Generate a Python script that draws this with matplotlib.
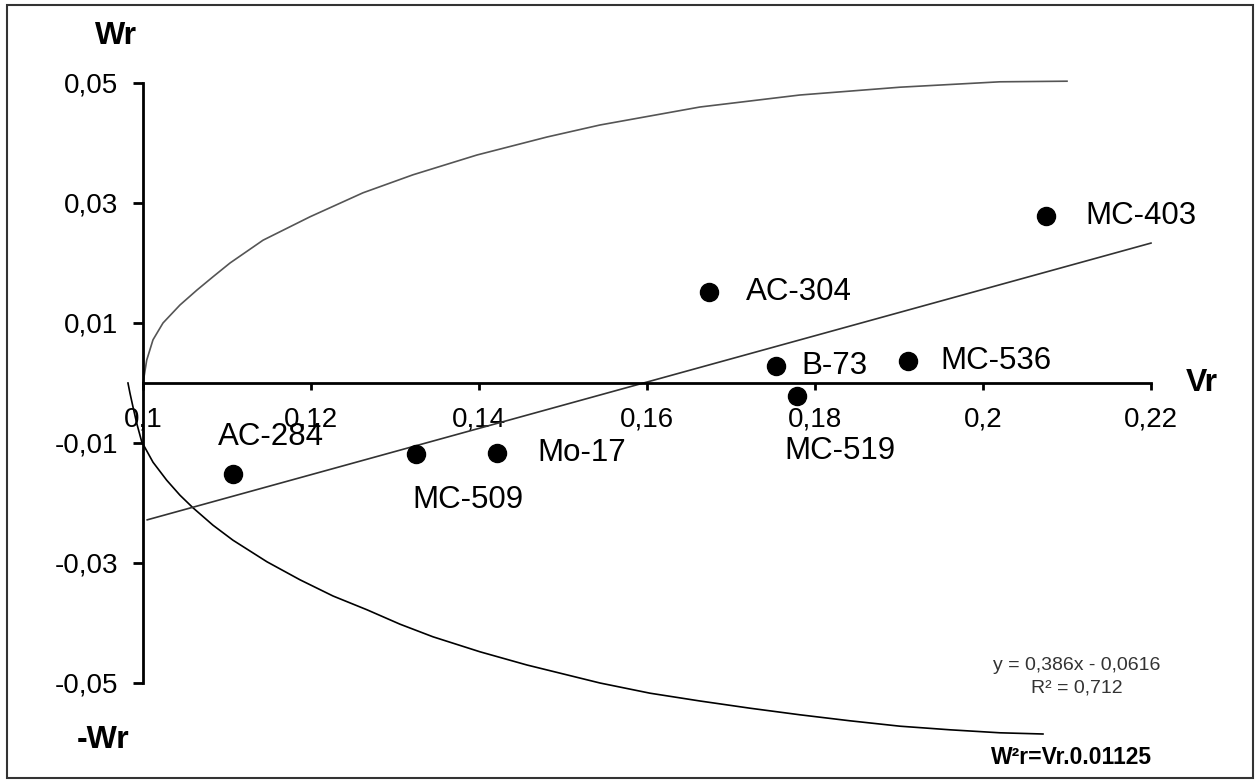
import numpy as np
import matplotlib
matplotlib.use('Agg')
import matplotlib.pyplot as plt
from matplotlib.patches import Rectangle

plt.rcParams['font.family'] = ['Liberation Sans', 'DejaVu Sans']

# sample points (Vr, Wr)
names = ['AC-284', 'MC-509', 'Mo-17', 'AC-304', 'B-73', 'MC-519', 'MC-536', 'MC-403']
vr = [0.1107, 0.1325, 0.1421, 0.1674, 0.1754, 0.1778, 0.1911, 0.2075]
wr = [-0.0152, -0.0119, -0.0116, 0.0152, 0.0028, -0.0021, 0.0037, 0.0279]

# linear trend shown in the chart
trend_slope = 0.386
trend_intercept = -0.0616
trend_r2 = 0.712
trend_range = [0.1005, 0.22]

# envelope curves
upper_vr = [0.1, 0.10012, 0.10044, 0.10119, 0.10238, 0.10440, 0.10643, 0.10833,
            0.11036, 0.11429, 0.11988, 0.12619, 0.13214, 0.13976, 0.14810,
            0.15440, 0.16631, 0.17821, 0.19012, 0.20202, 0.2100]
upper_wr = [0.0, 0.0010, 0.0038, 0.0072, 0.0100, 0.0130, 0.0155, 0.0177,
            0.0200, 0.0238, 0.0277, 0.0317, 0.0347, 0.0380, 0.0410,
            0.0430, 0.0460, 0.0480, 0.0493, 0.0502, 0.0503]
lower_vr = [0.09821, 0.09845, 0.09881, 0.09925, 0.09985, 0.10119, 0.10282, 0.10440,
            0.10595, 0.10833, 0.11071, 0.11476, 0.11869, 0.12262, 0.12667,
            0.13060, 0.13452, 0.14012, 0.14571, 0.15440, 0.16036, 0.16631,
            0.17226, 0.17821, 0.18417, 0.19012, 0.19607, 0.20202, 0.20714]
lower_wr = [0.0, -0.0017, -0.0040, -0.0067, -0.0098, -0.0132, -0.0162, -0.0187,
            -0.0208, -0.0237, -0.0262, -0.0298, -0.0328, -0.0355, -0.0378,
            -0.0402, -0.0423, -0.0448, -0.0470, -0.0500, -0.0517, -0.0530,
            -0.0542, -0.0553, -0.0563, -0.0572, -0.0578, -0.0583, -0.0585]

x_ticks = [0.10, 0.12, 0.14, 0.16, 0.18, 0.20, 0.22]
x_tick_labels = ['0,1', '0,12', '0,14', '0,16', '0,18', '0,2', '0,22']
y_ticks = [-0.05, -0.03, -0.01, 0.01, 0.03, 0.05]
y_tick_labels = ['-0,05', '-0,03', '-0,01', '0,01', '0,03', '0,05']

W, H = 1258, 781
fig = plt.figure(figsize=(W/100, H/100), dpi=100)
ax = fig.add_axes([0, 0, 1, 1])
ax.set_facecolor('none')

# axes cross at (0.1, 0)
ax.set_xlim(0.1 - 143/8400, 0.1 + (W - 143)/8400)
ax.set_ylim(-(H - 383)/6000, 383/6000)

ax.plot(upper_vr, upper_wr, color='#555555', lw=1.2)
ax.plot(lower_vr, lower_wr, color='black', lw=1.2)

tx = np.array(trend_range)
ax.plot(tx, trend_slope*tx + trend_intercept, color='#333333', lw=1.2)

ax.plot(vr, wr, 'o', color='black', ms=13, lw=0)

# label offsets in pixels (dx, dy) from each point, text left-aligned
offsets = {'AC-284': (-15, 37), 'MC-509': (-4, -46), 'Mo-17': (41, 0),
           'AC-304': (37, 0), 'B-73': (25, 0), 'MC-519': (-12, -55),
           'MC-536': (32, 0), 'MC-403': (39, 0)}
for n, x, y in zip(names, vr, wr):
    ax.annotate(n, (x, y), xytext=offsets[n], textcoords='offset pixels',
                ha='left', va='center', fontsize=22.5)

for s in ['top', 'right']:
    ax.spines[s].set_visible(False)
ax.spines['left'].set_position(('data', 0.1))
ax.spines['left'].set_bounds(-0.05, 0.05)
ax.spines['bottom'].set_position(('data', 0))
ax.spines['bottom'].set_bounds(0.1, 0.22)
for s in ['left', 'bottom']:
    ax.spines[s].set_linewidth(2)

ax.set_xticks(x_ticks)
ax.set_xticklabels(x_tick_labels)
ax.set_yticks(y_ticks)
ax.set_yticklabels(y_tick_labels)
ax.tick_params(axis='x', direction='out', length=5, width=2, pad=12, labelsize=20)
ax.tick_params(axis='y', direction='out', length=7, width=2, pad=11, labelsize=20)

def px(x, y):
    return x/W, 1 - y/H

fig.text(*px(116, 36), 'Wr', ha='center', va='center', fontsize=23, fontweight='bold')
fig.text(*px(103, 740), '-Wr', ha='center', va='center', fontsize=23, fontweight='bold')
fig.text(*px(1202, 383), 'Vr', ha='center', va='center', fontsize=23, fontweight='bold')
fig.text(*px(1077, 666), 'y = %sx - %s' % ('0,386', '0,0616'),
         ha='center', va='center', fontsize=14, color='#333333')
fig.text(*px(1077, 688), 'R² = %s' % str(trend_r2).replace('.', ','),
         ha='center', va='center', fontsize=14, color='#333333')
fig.text(*px(1071, 757), 'W²r=Vr.0.01125', ha='center', va='center',
         fontsize=16.5, fontweight='bold')

fig.patches.append(Rectangle((7/W, 1 - 778/H), 1246/W, 773/H, transform=fig.transFigure,
                             fill=False, edgecolor='#333333', lw=1.5))

fig.savefig('out.png', dpi=100)
